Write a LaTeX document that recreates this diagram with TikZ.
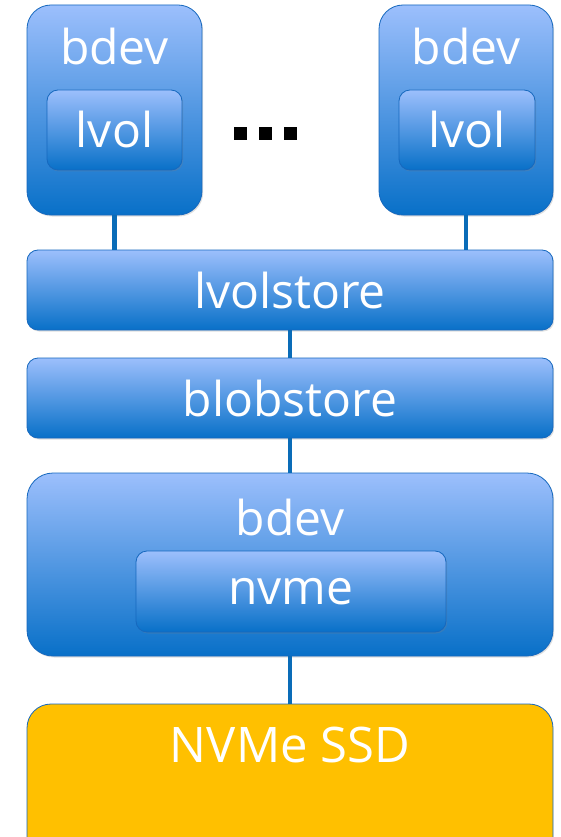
\documentclass[tikz,border=0pt]{standalone}
\usepackage{fontspec}
\setmainfont{Open Sans}
\usetikzlibrary{shadows}
\definecolor{btop}{HTML}{9CBFFC}
\definecolor{bbot}{HTML}{0870C8}
\definecolor{bline}{HTML}{1668BE}
\definecolor{conn}{HTML}{0A6CB8}
\definecolor{ssd}{HTML}{FFC000}
\tikzset{
  bluebox/.style={draw=bline, line width=0.8pt, top color=btop, bottom color=bbot,
    drop shadow={shadow xshift=1.2pt, shadow yshift=-1.5pt, opacity=0.25},
    inner sep=0pt, outer sep=0pt},
  lbl/.style={text=white, font=\fontsize{48}{52}\selectfont, inner sep=0pt},
  conn/.style={draw=conn, line width=4.5pt}
}
\begin{document}
\begin{tikzpicture}[x=1pt,y=-1pt]
\clip (0,0) rectangle (560,837);
\fill[white] (0,0) rectangle (560,837);
% boxes
\node[bluebox, rounded corners=24pt, minimum width=175pt, minimum height=210pt] (lb) at (114.5,110) {};
\node[bluebox, rounded corners=24pt, minimum width=174pt, minimum height=210pt] (rb) at (466,110) {};
\node[lbl] (lbt) at (114.5,47) {bdev};
\node[lbl] (rbt) at (466,47) {bdev};
\node[bluebox, rounded corners=11pt, minimum width=135pt, minimum height=80pt, lbl] (ll) at (114.5,130) {lvol};
\node[bluebox, rounded corners=11pt, minimum width=136pt, minimum height=80pt, lbl] (rl) at (467,130) {lvol};
% dots
\fill[black] (234,127) rectangle (247,140);
\fill[black] (259,127) rectangle (272,140);
\fill[black] (284,127) rectangle (297,140);
\node[bluebox, rounded corners=11pt, minimum width=526pt, minimum height=80pt, lbl] (lvs) at (290,290) {lvolstore};
\node[bluebox, rounded corners=11pt, minimum width=526pt, minimum height=80pt, lbl] (bs) at (290,398) {blobstore};
\node[bluebox, rounded corners=26pt, minimum width=526pt, minimum height=183pt] (bd) at (290,564.5) {};
\node[lbl] (bdt) at (290,517) {bdev};
\node[bluebox, rounded corners=11pt, minimum width=310pt, minimum height=81pt, lbl] (nv) at (291,591.5) {nvme};
\node[draw=bline, line width=0.8pt, fill=ssd, rounded corners=24pt, minimum width=526pt, minimum height=170pt, inner sep=0pt] (ssdb) at (290,789) {};
\node[lbl, font=\fontsize{49}{52}\selectfont] (ssdt) at (290,745) {NVMe SSD};
% connectors
\draw[conn] (lb.south) -- (lb.south |- lvs.north);
\draw[conn] (rb.south) -- (rb.south |- lvs.north);
\draw[conn] (lvs.south) -- (bs.north);
\draw[conn] (bs.south) -- (bd.north);
\draw[conn] (bd.south) -- (ssdb.north);
\end{tikzpicture}
\end{document}
